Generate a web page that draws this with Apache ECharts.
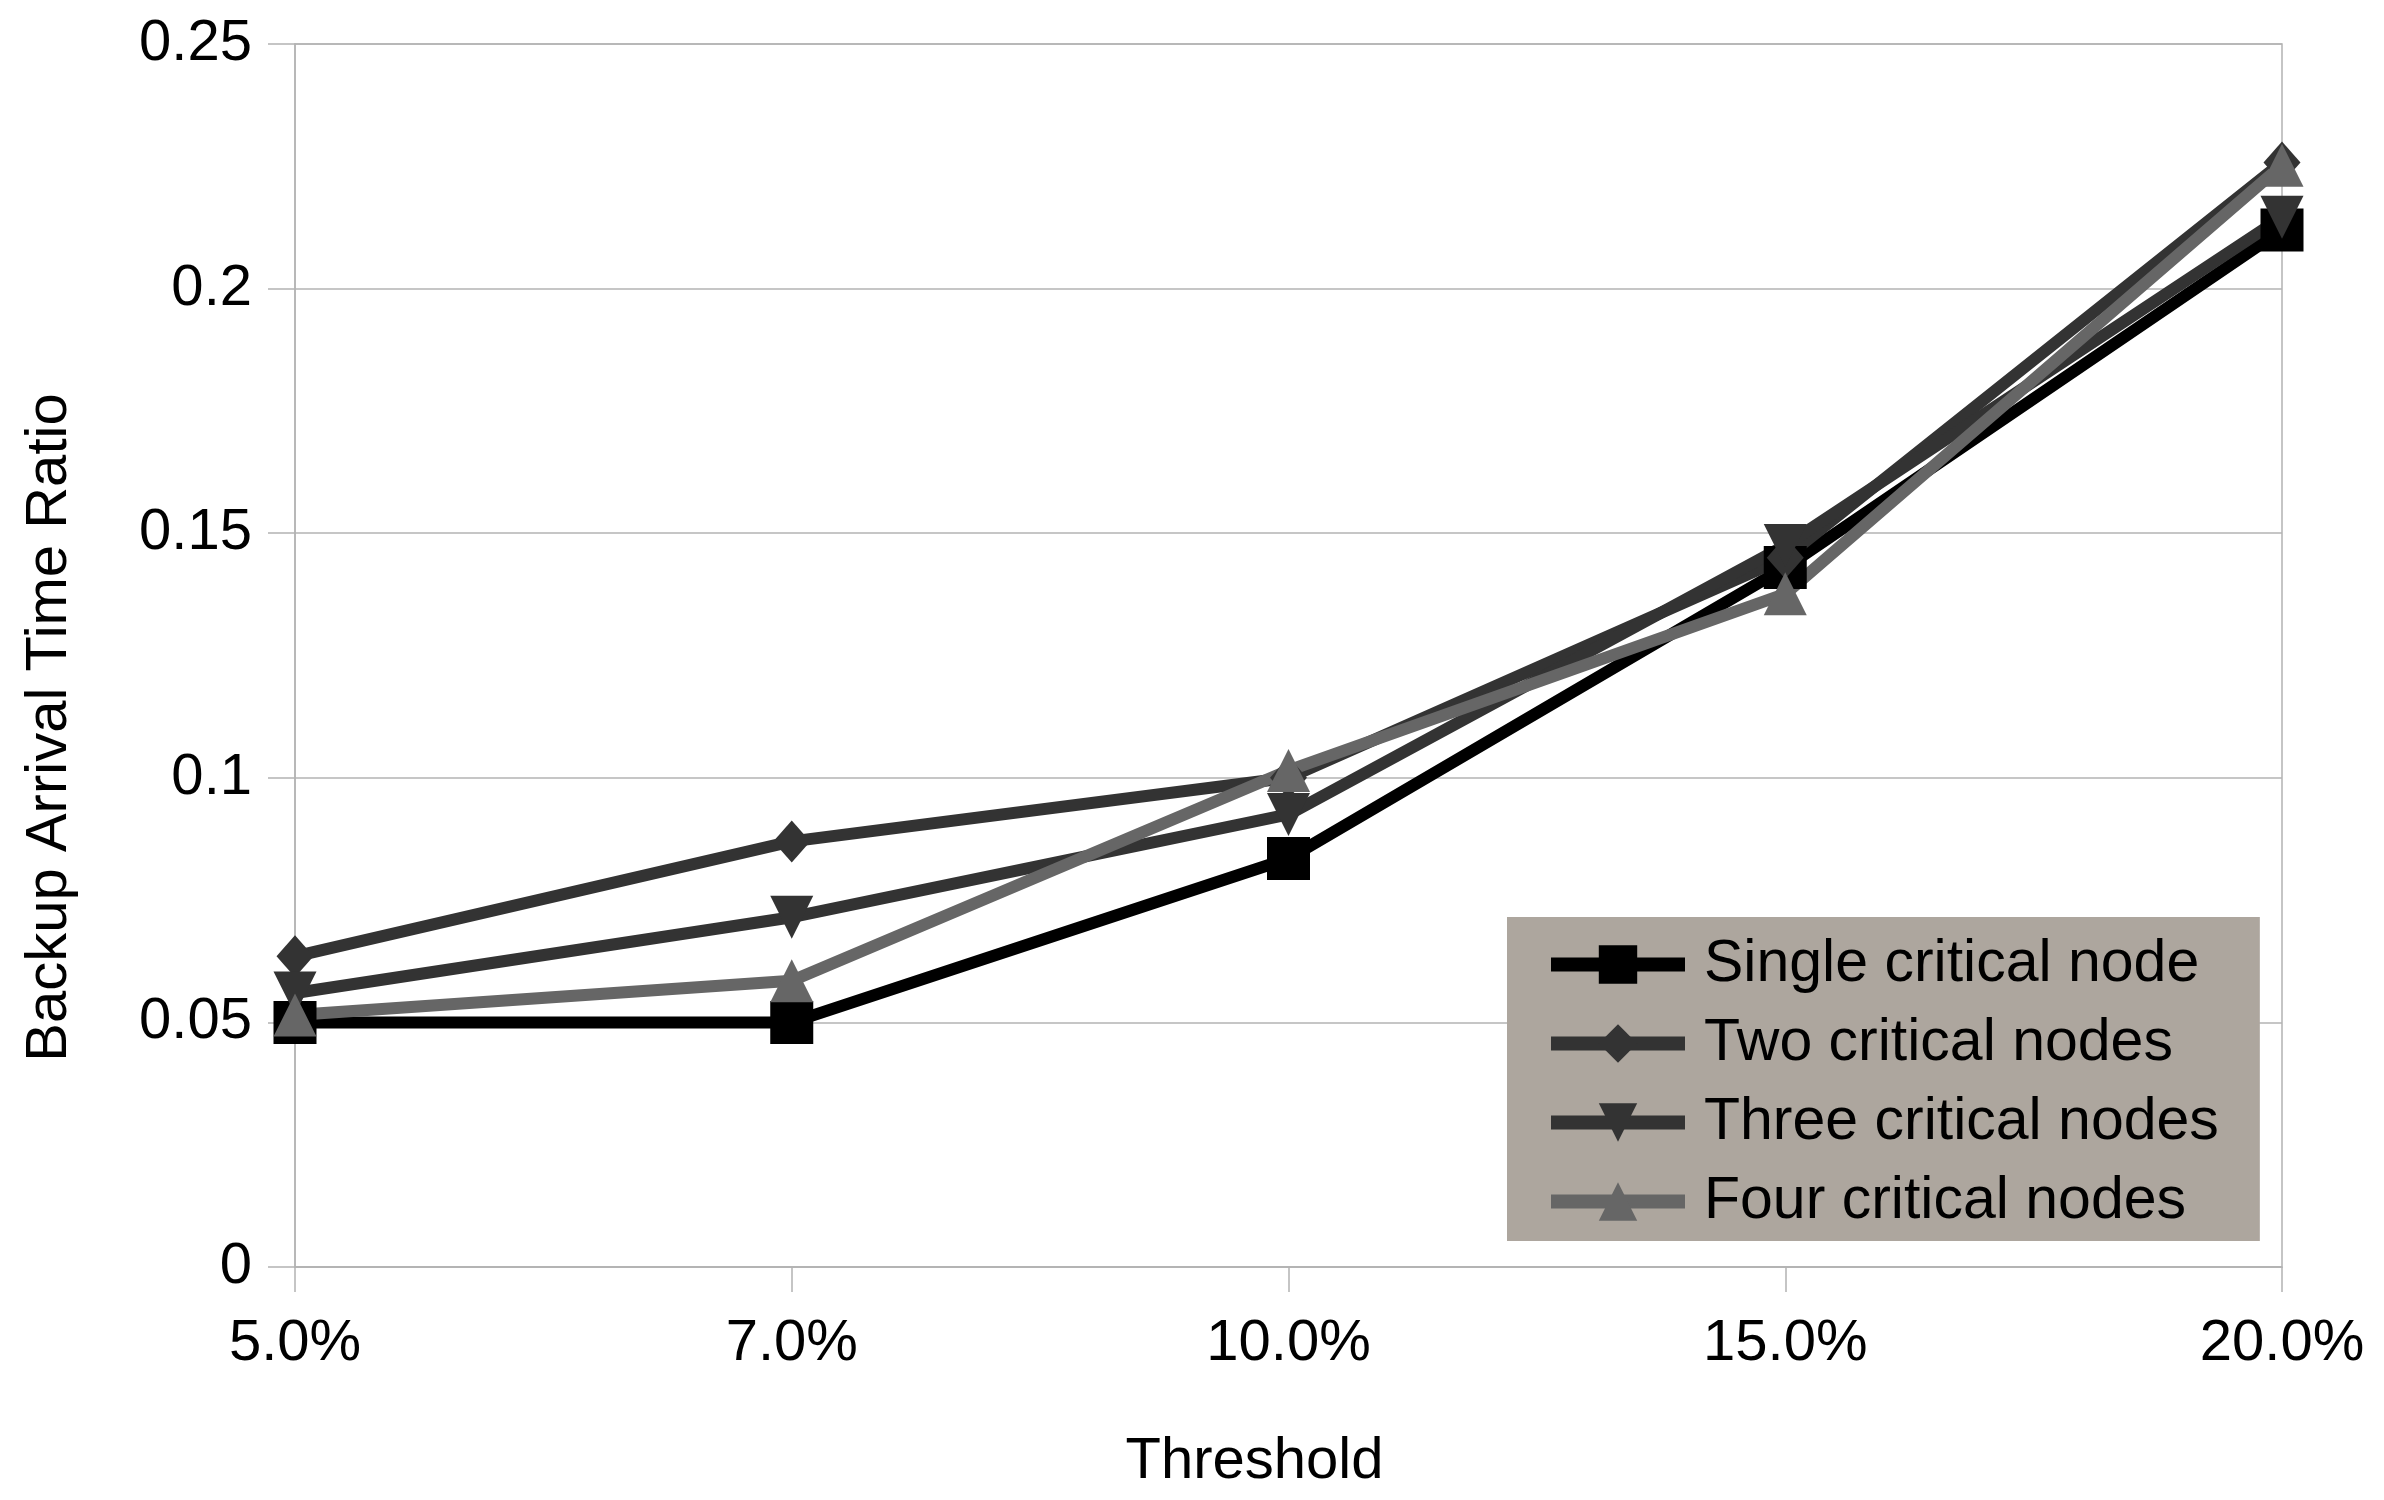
<!DOCTYPE html>
<html>
<head>
<meta charset="utf-8">
<script src="https://cdn.jsdelivr.net/npm/echarts@6/dist/echarts.min.js"></script>
<style>
    html, body { margin: 0; padding: 0; background: #fff; }
    #chart { width: 2384px; height: 1500px; }
</style>
</head>
<body>
<div id="chart"></div>
<script>
// thresholds on the x axis
var thresholds = ['5.0%', '7.0%', '10.0%', '15.0%', '20.0%'];

// backup arrival time ratio per series
var singleNode = [0.050, 0.050, 0.0835, 0.143, 0.212];
var twoNodes   = [0.0635, 0.087, 0.100, 0.145, 0.2258];
var threeNodes = [0.056, 0.0715, 0.0925, 0.1475, 0.2146];
var fourNodes  = [0.0515, 0.0585, 0.1015, 0.1376, 0.2252];

var seriesNames = ['Single critical node', 'Two critical nodes', 'Three critical nodes', 'Four critical nodes'];

var font = 'Liberation Sans';
var gridColor = '#b3b3b3';

function makeSeries(name, data, color, symbol, size) {
    return {
        name: name,
        type: 'line',
        data: data,
        symbol: symbol,
        symbolSize: size,
        lineStyle: { color: color, width: 12 },
        itemStyle: { color: color },
        emphasis: { disabled: true }
    };
}

var chart = echarts.init(document.getElementById('chart'));

chart.setOption({
    animation: false,
    backgroundColor: '#ffffff',
    grid: {
        left: 295, right: 102, top: 44, bottom: 233,
        show: true,
        borderColor: gridColor,
        borderWidth: 1.5
    },
    legend: {
        data: seriesNames,
        orient: 'vertical',
        left: 1507,
        top: 917,
        padding: [18, 41, 10, 37],
        backgroundColor: '#ada69e',
        itemWidth: 134,
        itemHeight: 48,
        itemGap: 20,
        lineStyle: { width: 14 },
        textStyle: {
            fontFamily: font,
            fontSize: 59,
            color: '#000',
            lineHeight: 48,
            padding: [0, 0, 0, 14]
        }
    },
    xAxis: {
        type: 'category',
        data: thresholds,
        boundaryGap: false,
        name: 'Threshold',
        nameLocation: 'middle',
        nameGap: 166,
        nameTextStyle: { fontFamily: font, fontSize: 58, color: '#000', padding: [0, 68, 0, 0] },
        axisLine: { lineStyle: { color: gridColor, width: 1.5 } },
        axisTick: { length: 25, lineStyle: { color: gridColor, width: 1.5 } },
        axisLabel: { fontFamily: font, fontSize: 58, color: '#000', margin: 48 },
        splitLine: { show: false }
    },
    yAxis: {
        type: 'value',
        min: 0,
        max: 0.25,
        interval: 0.05,
        name: 'Backup Arrival Time Ratio',
        nameLocation: 'middle',
        nameGap: 216,
        nameTextStyle: { fontFamily: font, fontSize: 58, color: '#000', padding: [0, 144, 0, 0] },
        axisLine: { show: true, lineStyle: { color: gridColor, width: 1.5 } },
        axisTick: { show: true, length: 27, lineStyle: { color: gridColor, width: 1.5 } },
        axisLabel: { fontFamily: font, fontSize: 58, color: '#000', margin: 43 },
        splitLine: { lineStyle: { color: gridColor, width: 1.5 } }
    },
    series: [
        makeSeries(seriesNames[0], singleNode, '#000000', 'rect', 43),
        makeSeries(seriesNames[1], twoNodes, '#333333', 'diamond', [37, 42]),
        makeSeries(seriesNames[2], threeNodes, '#333333', 'path://M0,0 L10,0 L5,10 Z', 43),
        makeSeries(seriesNames[3], fourNodes, '#666666', 'triangle', 43)
    ]
});
</script>
</body>
</html>
